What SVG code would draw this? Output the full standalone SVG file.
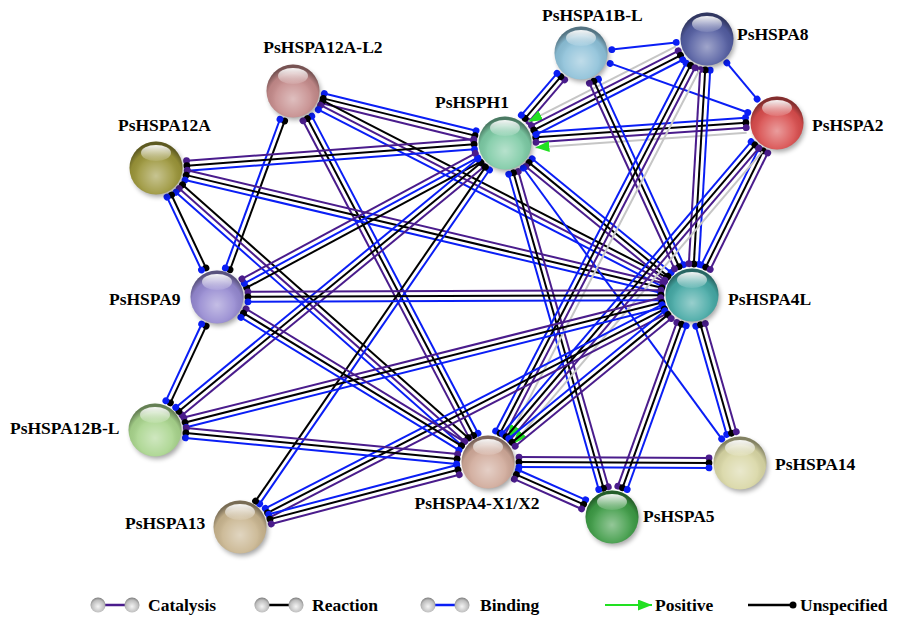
<svg xmlns="http://www.w3.org/2000/svg" width="897" height="617" viewBox="0 0 897 617">
<defs>
<style>
line{stroke-width:2;fill:none}
.p{stroke:#4a1c8c}.k{stroke:#000}.b{stroke:#0a1ef5}.g{stroke:#c6c6c6}
.dp{fill:#4a1c8c}.dk{fill:#000}.db{fill:#0a1ef5}
.lbl{font-family:"Liberation Serif","Times New Roman",serif;font-weight:bold;font-size:17.5px;fill:#000}
.sh{fill:#000;opacity:.35;filter:url(#blur)}
</style>
<filter id="blur" x="-50%" y="-50%" width="200%" height="200%"><feGaussianBlur stdDeviation="2.5"/></filter>
<radialGradient id="shade" cx="0.5" cy="0.65" r="0.6">
<stop offset="0" stop-color="#fff" stop-opacity="0.45"/>
<stop offset="0.55" stop-color="#fff" stop-opacity="0.1"/>
<stop offset="0.8" stop-color="#000" stop-opacity="0.05"/>
<stop offset="1" stop-color="#000" stop-opacity="0.4"/>
</radialGradient>
<linearGradient id="gloss" x1="0" y1="0" x2="0" y2="1">
<stop offset="0" stop-color="#fff" stop-opacity="0.95"/>
<stop offset="1" stop-color="#fff" stop-opacity="0.1"/>
</linearGradient>
<radialGradient id="lg" cx="0.5" cy="0.6" r="0.6">
<stop offset="0" stop-color="#f4f4f4"/>
<stop offset="0.7" stop-color="#bdbdbd"/>
<stop offset="1" stop-color="#7a7a7a"/>
</radialGradient>
<marker id="arr" markerUnits="userSpaceOnUse" markerWidth="14" markerHeight="11" refX="14" refY="5.5" orient="auto">
<path d="M0,0 L14,5.5 L0,11 z" fill="#22e022"/>
</marker>
</defs>
<rect width="897" height="617" fill="#fff"/>
<g id="connectors">
<g transform="translate(293,91) rotate(13.78)"><line class="b" x1="31" x2="187.3" y1="-5" y2="-5"/><line class="k" x1="31" x2="187.3" y1="0" y2="0"/><line class="p" x1="31" x2="187.3" y1="5" y2="5"/><circle class="db" cx="31" cy="-5" r="3.4"/><circle class="dk" cx="31" cy="0" r="3.4"/><circle class="dp" cx="31" cy="5" r="3.4"/><circle class="db" cx="187.3" cy="-5" r="3.4"/><circle class="dk" cx="187.3" cy="0" r="3.4"/><circle class="dp" cx="187.3" cy="5" r="3.4"/></g>
<g transform="translate(293,91) rotate(27.19)"><line class="k" x1="31" x2="417.6" y1="-5" y2="-5"/><line class="p" x1="31" x2="417.6" y1="0" y2="0"/><line class="b" x1="31" x2="417.6" y1="5" y2="5"/><circle class="dk" cx="31" cy="-5" r="3.4"/><circle class="dp" cx="31" cy="0" r="3.4"/><circle class="db" cx="31" cy="5" r="3.4"/><circle class="dk" cx="417.6" cy="-5" r="3.4"/><circle class="dp" cx="417.6" cy="0" r="3.4"/><circle class="db" cx="417.6" cy="5" r="3.4"/></g>
<g transform="translate(293,91) rotate(110.16)"><line class="k" x1="31" x2="189.5" y1="-2.5" y2="-2.5"/><line class="b" x1="31" x2="189.5" y1="2.5" y2="2.5"/><circle class="dk" cx="31" cy="-2.5" r="3.4"/><circle class="db" cx="31" cy="2.5" r="3.4"/><circle class="dk" cx="189.5" cy="-2.5" r="3.4"/><circle class="db" cx="189.5" cy="2.5" r="3.4"/></g>
<g transform="translate(293,91) rotate(62.34)"><line class="b" x1="31" x2="389" y1="-5" y2="-5"/><line class="k" x1="31" x2="389" y1="0" y2="0"/><line class="p" x1="31" x2="389" y1="5" y2="5"/><circle class="db" cx="31" cy="-5" r="3.4"/><circle class="dk" cx="31" cy="0" r="3.4"/><circle class="dp" cx="31" cy="5" r="3.4"/><circle class="db" cx="389" cy="-5" r="3.4"/><circle class="dk" cx="389" cy="0" r="3.4"/><circle class="dp" cx="389" cy="5" r="3.4"/></g>
<g transform="translate(156,168) rotate(-4.26)"><line class="p" x1="31" x2="319" y1="-5" y2="-5"/><line class="k" x1="31" x2="319" y1="0" y2="0"/><line class="b" x1="31" x2="319" y1="5" y2="5"/><circle class="dp" cx="31" cy="-5" r="3.4"/><circle class="dk" cx="31" cy="0" r="3.4"/><circle class="db" cx="31" cy="5" r="3.4"/><circle class="dp" cx="319" cy="-5" r="3.4"/><circle class="dk" cx="319" cy="0" r="3.4"/><circle class="db" cx="319" cy="5" r="3.4"/></g>
<g transform="translate(156,168) rotate(13.33)"><line class="p" x1="31" x2="519.8" y1="-5" y2="-5"/><line class="k" x1="31" x2="519.8" y1="0" y2="0"/><line class="b" x1="31" x2="519.8" y1="5" y2="5"/><circle class="dp" cx="31" cy="-5" r="3.4"/><circle class="dk" cx="31" cy="0" r="3.4"/><circle class="db" cx="31" cy="5" r="3.4"/><circle class="dp" cx="519.8" cy="-5" r="3.4"/><circle class="dk" cx="519.8" cy="0" r="3.4"/><circle class="db" cx="519.8" cy="5" r="3.4"/></g>
<g transform="translate(156,168) rotate(41.53)"><line class="k" x1="31" x2="412.5" y1="-5" y2="-5"/><line class="p" x1="31" x2="412.5" y1="0" y2="0"/><line class="b" x1="31" x2="412.5" y1="5" y2="5"/><circle class="dk" cx="31" cy="-5" r="3.4"/><circle class="dp" cx="31" cy="0" r="3.4"/><circle class="db" cx="31" cy="5" r="3.4"/><circle class="dk" cx="412.5" cy="-5" r="3.4"/><circle class="dp" cx="412.5" cy="0" r="3.4"/><circle class="db" cx="412.5" cy="5" r="3.4"/></g>
<g transform="translate(156,168) rotate(64.7)"><line class="k" x1="31" x2="111.7" y1="-2.5" y2="-2.5"/><line class="b" x1="31" x2="111.7" y1="2.5" y2="2.5"/><circle class="dk" cx="31" cy="-2.5" r="3.4"/><circle class="db" cx="31" cy="2.5" r="3.4"/><circle class="dk" cx="111.7" cy="-2.5" r="3.4"/><circle class="db" cx="111.7" cy="2.5" r="3.4"/></g>
<g transform="translate(505,143) rotate(151.71)"><line class="k" x1="31" x2="296.1" y1="-5" y2="-5"/><line class="b" x1="31" x2="296.1" y1="0" y2="0"/><line class="p" x1="31" x2="296.1" y1="5" y2="5"/><circle class="dk" cx="31" cy="-5" r="3.4"/><circle class="db" cx="31" cy="0" r="3.4"/><circle class="dp" cx="31" cy="5" r="3.4"/><circle class="dk" cx="296.1" cy="-5" r="3.4"/><circle class="db" cx="296.1" cy="0" r="3.4"/><circle class="dp" cx="296.1" cy="5" r="3.4"/></g>
<g transform="translate(505,143) rotate(140.55)"><line class="p" x1="31" x2="422.3" y1="-5" y2="-5"/><line class="k" x1="31" x2="422.3" y1="0" y2="0"/><line class="b" x1="31" x2="422.3" y1="5" y2="5"/><circle class="dp" cx="31" cy="-5" r="3.4"/><circle class="dk" cx="31" cy="0" r="3.4"/><circle class="db" cx="31" cy="5" r="3.4"/><circle class="dp" cx="422.3" cy="-5" r="3.4"/><circle class="dk" cx="422.3" cy="0" r="3.4"/><circle class="db" cx="422.3" cy="5" r="3.4"/></g>
<g transform="translate(505,143) rotate(124.54)"><line class="b" x1="31" x2="436.4" y1="-2.5" y2="-2.5"/><line class="k" x1="31" x2="436.4" y1="2.5" y2="2.5"/><circle class="db" cx="31" cy="-2.5" r="3.4"/><circle class="dk" cx="31" cy="2.5" r="3.4"/><circle class="db" cx="436.4" cy="-2.5" r="3.4"/><circle class="dk" cx="436.4" cy="2.5" r="3.4"/></g>
<g transform="translate(505,143) rotate(74.07)"><line class="p" x1="31" x2="359" y1="-5" y2="-5"/><line class="k" x1="31" x2="359" y1="0" y2="0"/><line class="b" x1="31" x2="359" y1="5" y2="5"/><circle class="dp" cx="31" cy="-5" r="3.4"/><circle class="dk" cx="31" cy="0" r="3.4"/><circle class="db" cx="31" cy="5" r="3.4"/><circle class="dp" cx="359" cy="-5" r="3.4"/><circle class="dk" cx="359" cy="0" r="3.4"/><circle class="db" cx="359" cy="5" r="3.4"/></g>
<g transform="translate(505,143) rotate(39.29)"><line class="b" x1="31" x2="210.6" y1="-5" y2="-5"/><line class="k" x1="31" x2="210.6" y1="0" y2="0"/><line class="p" x1="31" x2="210.6" y1="5" y2="5"/><circle class="db" cx="31" cy="-5" r="3.4"/><circle class="dk" cx="31" cy="0" r="3.4"/><circle class="dp" cx="31" cy="5" r="3.4"/><circle class="db" cx="210.6" cy="-5" r="3.4"/><circle class="dk" cx="210.6" cy="0" r="3.4"/><circle class="dp" cx="210.6" cy="5" r="3.4"/></g>
<g transform="translate(505,143) rotate(53.79)"><line class="b" x1="31" x2="366.8" y1="0" y2="0"/><circle class="db" cx="31" cy="0" r="3.4"/><circle class="db" cx="366.8" cy="0" r="3.4"/></g>
<g transform="translate(777,123) rotate(176)"><line class="b" x1="31" x2="241.7" y1="7.5" y2="7.5"/><line class="k" x1="31" x2="241.7" y1="2.5" y2="2.5"/><line class="p" x1="31" x2="241.7" y1="-2.5" y2="-2.5"/><line class="g" x1="31" x2="242.7" y1="-7.5" y2="-7.5" marker-end="url(#arr)"/><circle class="db" cx="31" cy="7.5" r="3.4"/><circle class="dk" cx="31" cy="2.5" r="3.4"/><circle class="dp" cx="31" cy="-2.5" r="3.4"/><circle class="db" cx="241.7" cy="7.5" r="3.4"/><circle class="dk" cx="241.7" cy="2.5" r="3.4"/><circle class="dp" cx="241.7" cy="-2.5" r="3.4"/></g>
<g transform="translate(581,53) rotate(130.5)"><line class="p" x1="31" x2="86" y1="-5" y2="-5"/><line class="k" x1="31" x2="86" y1="0" y2="0"/><line class="b" x1="31" x2="86" y1="5" y2="5"/><circle class="dp" cx="31" cy="-5" r="3.4"/><circle class="dk" cx="31" cy="0" r="3.4"/><circle class="db" cx="31" cy="5" r="3.4"/><circle class="dp" cx="86" cy="-5" r="3.4"/><circle class="dk" cx="86" cy="0" r="3.4"/><circle class="db" cx="86" cy="5" r="3.4"/></g>
<g transform="translate(707,39) rotate(152.98)"><line class="g" x1="31" x2="196.7" y1="7.5" y2="7.5" marker-end="url(#arr)"/><line class="p" x1="31" x2="195.7" y1="2.5" y2="2.5"/><line class="k" x1="31" x2="195.7" y1="-2.5" y2="-2.5"/><line class="b" x1="31" x2="195.7" y1="-7.5" y2="-7.5"/><circle class="dp" cx="31" cy="2.5" r="3.4"/><circle class="dk" cx="31" cy="-2.5" r="3.4"/><circle class="db" cx="31" cy="-7.5" r="3.4"/><circle class="dp" cx="195.7" cy="2.5" r="3.4"/><circle class="dk" cx="195.7" cy="-2.5" r="3.4"/><circle class="db" cx="195.7" cy="-7.5" r="3.4"/></g>
<g transform="translate(581,53) rotate(-6.34)"><line class="b" x1="31" x2="95.8" y1="0" y2="0"/><circle class="db" cx="31" cy="0" r="3.4"/><circle class="db" cx="95.8" cy="0" r="3.4"/></g>
<g transform="translate(581,53) rotate(19.65)"><line class="b" x1="31" x2="177.1" y1="0" y2="0"/><circle class="db" cx="31" cy="0" r="3.4"/><circle class="db" cx="177.1" cy="0" r="3.4"/></g>
<g transform="translate(581,53) rotate(65.36)"><line class="b" x1="31" x2="235.2" y1="-5" y2="-5"/><line class="k" x1="31" x2="235.2" y1="0" y2="0"/><line class="p" x1="31" x2="235.2" y1="5" y2="5"/><circle class="db" cx="31" cy="-5" r="3.4"/><circle class="dk" cx="31" cy="0" r="3.4"/><circle class="dp" cx="31" cy="5" r="3.4"/><circle class="db" cx="235.2" cy="-5" r="3.4"/><circle class="dk" cx="235.2" cy="0" r="3.4"/><circle class="dp" cx="235.2" cy="5" r="3.4"/></g>
<g transform="translate(707,39) rotate(50.19)"><line class="b" x1="31" x2="78.3" y1="0" y2="0"/><circle class="db" cx="31" cy="0" r="3.4"/><circle class="db" cx="78.3" cy="0" r="3.4"/></g>
<g transform="translate(707,39) rotate(93.35)"><line class="b" x1="31" x2="225.4" y1="-5" y2="-5"/><line class="k" x1="31" x2="225.4" y1="0" y2="0"/><line class="p" x1="31" x2="225.4" y1="5" y2="5"/><circle class="db" cx="31" cy="-5" r="3.4"/><circle class="dk" cx="31" cy="0" r="3.4"/><circle class="dp" cx="31" cy="5" r="3.4"/><circle class="db" cx="225.4" cy="-5" r="3.4"/><circle class="dk" cx="225.4" cy="0" r="3.4"/><circle class="dp" cx="225.4" cy="5" r="3.4"/></g>
<g transform="translate(707,39) rotate(117.37)"><line class="b" x1="31" x2="445.3" y1="7.5" y2="7.5"/><line class="k" x1="31" x2="445.3" y1="2.5" y2="2.5"/><line class="p" x1="31" x2="445.3" y1="-2.5" y2="-2.5"/><line class="g" x1="31" x2="446.3" y1="-7.5" y2="-7.5" marker-end="url(#arr)"/><circle class="db" cx="31" cy="7.5" r="3.4"/><circle class="dk" cx="31" cy="2.5" r="3.4"/><circle class="dp" cx="31" cy="-2.5" r="3.4"/><circle class="db" cx="445.3" cy="7.5" r="3.4"/><circle class="dk" cx="445.3" cy="2.5" r="3.4"/><circle class="dp" cx="445.3" cy="-2.5" r="3.4"/></g>
<g transform="translate(777,123) rotate(116.29)"><line class="b" x1="31" x2="160.9" y1="5" y2="5"/><line class="k" x1="31" x2="160.9" y1="0" y2="0"/><line class="p" x1="31" x2="160.9" y1="-5" y2="-5"/><circle class="db" cx="31" cy="5" r="3.4"/><circle class="dk" cx="31" cy="0" r="3.4"/><circle class="dp" cx="31" cy="-5" r="3.4"/><circle class="db" cx="160.9" cy="5" r="3.4"/><circle class="dk" cx="160.9" cy="0" r="3.4"/><circle class="dp" cx="160.9" cy="-5" r="3.4"/></g>
<g transform="translate(777,123) rotate(130.45)"><line class="b" x1="31" x2="414.5" y1="7.5" y2="7.5"/><line class="k" x1="31" x2="414.5" y1="2.5" y2="2.5"/><line class="p" x1="31" x2="414.5" y1="-2.5" y2="-2.5"/><line class="g" x1="31" x2="415.5" y1="-7.5" y2="-7.5" marker-end="url(#arr)"/><circle class="db" cx="31" cy="7.5" r="3.4"/><circle class="dk" cx="31" cy="2.5" r="3.4"/><circle class="dp" cx="31" cy="-2.5" r="3.4"/><circle class="db" cx="414.5" cy="7.5" r="3.4"/><circle class="dk" cx="414.5" cy="2.5" r="3.4"/><circle class="dp" cx="414.5" cy="-2.5" r="3.4"/></g>
<g transform="translate(217,297) rotate(-0.24)"><line class="p" x1="31" x2="444" y1="-5" y2="-5"/><line class="k" x1="31" x2="444" y1="0" y2="0"/><line class="b" x1="31" x2="444" y1="5" y2="5"/><circle class="dp" cx="31" cy="-5" r="3.4"/><circle class="dk" cx="31" cy="0" r="3.4"/><circle class="db" cx="31" cy="5" r="3.4"/><circle class="dp" cx="444" cy="-5" r="3.4"/><circle class="dk" cx="444" cy="0" r="3.4"/><circle class="db" cx="444" cy="5" r="3.4"/></g>
<g transform="translate(155,430) rotate(-14.11)"><line class="p" x1="31" x2="522.7" y1="-5" y2="-5"/><line class="k" x1="31" x2="522.7" y1="0" y2="0"/><line class="b" x1="31" x2="522.7" y1="5" y2="5"/><circle class="dp" cx="31" cy="-5" r="3.4"/><circle class="dk" cx="31" cy="0" r="3.4"/><circle class="db" cx="31" cy="5" r="3.4"/><circle class="dp" cx="522.7" cy="-5" r="3.4"/><circle class="dk" cx="522.7" cy="0" r="3.4"/><circle class="db" cx="522.7" cy="5" r="3.4"/></g>
<g transform="translate(240,527) rotate(-27.17)"><line class="b" x1="31" x2="477.1" y1="-5" y2="-5"/><line class="k" x1="31" x2="477.1" y1="0" y2="0"/><line class="p" x1="31" x2="477.1" y1="5" y2="5"/><circle class="db" cx="31" cy="-5" r="3.4"/><circle class="dk" cx="31" cy="0" r="3.4"/><circle class="dp" cx="31" cy="5" r="3.4"/><circle class="db" cx="477.1" cy="-5" r="3.4"/><circle class="dk" cx="477.1" cy="0" r="3.4"/><circle class="dp" cx="477.1" cy="5" r="3.4"/></g>
<g transform="translate(488,462) rotate(-39.31)"><line class="b" x1="31" x2="232.6" y1="-5" y2="-5"/><line class="k" x1="31" x2="232.6" y1="0" y2="0"/><line class="p" x1="31" x2="232.6" y1="5" y2="5"/><circle class="db" cx="31" cy="-5" r="3.4"/><circle class="dk" cx="31" cy="0" r="3.4"/><circle class="dp" cx="31" cy="5" r="3.4"/><circle class="db" cx="232.6" cy="-5" r="3.4"/><circle class="dk" cx="232.6" cy="0" r="3.4"/><circle class="dp" cx="232.6" cy="5" r="3.4"/></g>
<g transform="translate(612,517) rotate(-70.18)"><line class="p" x1="31" x2="205" y1="-5" y2="-5"/><line class="k" x1="31" x2="205" y1="0" y2="0"/><line class="b" x1="31" x2="205" y1="5" y2="5"/><circle class="dp" cx="31" cy="-5" r="3.4"/><circle class="dk" cx="31" cy="0" r="3.4"/><circle class="db" cx="31" cy="5" r="3.4"/><circle class="dp" cx="205" cy="-5" r="3.4"/><circle class="dk" cx="205" cy="0" r="3.4"/><circle class="db" cx="205" cy="5" r="3.4"/></g>
<g transform="translate(692,295) rotate(74.05)"><line class="b" x1="31" x2="143.7" y1="5" y2="5"/><line class="k" x1="31" x2="143.7" y1="0" y2="0"/><line class="p" x1="31" x2="143.7" y1="-5" y2="-5"/><circle class="db" cx="31" cy="5" r="3.4"/><circle class="dk" cx="31" cy="0" r="3.4"/><circle class="dp" cx="31" cy="-5" r="3.4"/><circle class="db" cx="143.7" cy="5" r="3.4"/><circle class="dk" cx="143.7" cy="0" r="3.4"/><circle class="dp" cx="143.7" cy="-5" r="3.4"/></g>
<g transform="translate(217,297) rotate(115)"><line class="k" x1="31" x2="115.7" y1="-2.5" y2="-2.5"/><line class="b" x1="31" x2="115.7" y1="2.5" y2="2.5"/><circle class="dk" cx="31" cy="-2.5" r="3.4"/><circle class="db" cx="31" cy="2.5" r="3.4"/><circle class="dk" cx="115.7" cy="-2.5" r="3.4"/><circle class="db" cx="115.7" cy="2.5" r="3.4"/></g>
<g transform="translate(217,297) rotate(31.33)"><line class="p" x1="31" x2="286.3" y1="-5" y2="-5"/><line class="k" x1="31" x2="286.3" y1="0" y2="0"/><line class="b" x1="31" x2="286.3" y1="5" y2="5"/><circle class="dp" cx="31" cy="-5" r="3.4"/><circle class="dk" cx="31" cy="0" r="3.4"/><circle class="db" cx="31" cy="5" r="3.4"/><circle class="dp" cx="286.3" cy="-5" r="3.4"/><circle class="dk" cx="286.3" cy="0" r="3.4"/><circle class="db" cx="286.3" cy="5" r="3.4"/></g>
<g transform="translate(155,430) rotate(5.49)"><line class="p" x1="31" x2="303.5" y1="-5" y2="-5"/><line class="k" x1="31" x2="303.5" y1="0" y2="0"/><line class="b" x1="31" x2="303.5" y1="5" y2="5"/><circle class="dp" cx="31" cy="-5" r="3.4"/><circle class="dk" cx="31" cy="0" r="3.4"/><circle class="db" cx="31" cy="5" r="3.4"/><circle class="dp" cx="303.5" cy="-5" r="3.4"/><circle class="dk" cx="303.5" cy="0" r="3.4"/><circle class="db" cx="303.5" cy="5" r="3.4"/></g>
<g transform="translate(240,527) rotate(-14.69)"><line class="b" x1="31" x2="225.4" y1="-5" y2="-5"/><line class="k" x1="31" x2="225.4" y1="0" y2="0"/><line class="p" x1="31" x2="225.4" y1="5" y2="5"/><circle class="db" cx="31" cy="-5" r="3.4"/><circle class="dk" cx="31" cy="0" r="3.4"/><circle class="dp" cx="31" cy="5" r="3.4"/><circle class="db" cx="225.4" cy="-5" r="3.4"/><circle class="dk" cx="225.4" cy="0" r="3.4"/><circle class="dp" cx="225.4" cy="5" r="3.4"/></g>
<g transform="translate(488,462) rotate(0.23)"><line class="p" x1="31" x2="221" y1="-5" y2="-5"/><line class="k" x1="31" x2="221" y1="0" y2="0"/><line class="b" x1="31" x2="221" y1="5" y2="5"/><circle class="dp" cx="31" cy="-5" r="3.4"/><circle class="dk" cx="31" cy="0" r="3.4"/><circle class="db" cx="31" cy="5" r="3.4"/><circle class="dp" cx="221" cy="-5" r="3.4"/><circle class="dk" cx="221" cy="0" r="3.4"/><circle class="db" cx="221" cy="5" r="3.4"/></g>
<g transform="translate(488,462) rotate(23.92)"><line class="b" x1="31" x2="104.6" y1="-5" y2="-5"/><line class="k" x1="31" x2="104.6" y1="0" y2="0"/><line class="p" x1="31" x2="104.6" y1="5" y2="5"/><circle class="db" cx="31" cy="-5" r="3.4"/><circle class="dk" cx="31" cy="0" r="3.4"/><circle class="dp" cx="31" cy="5" r="3.4"/><circle class="db" cx="104.6" cy="-5" r="3.4"/><circle class="dk" cx="104.6" cy="0" r="3.4"/><circle class="dp" cx="104.6" cy="5" r="3.4"/></g>
</g>
<g id="PsHSPA12A-L2"><circle class="sh" cx="295" cy="94" r="26"/><circle cx="293" cy="91" r="26.5" fill="#c48a8a"/><circle cx="293" cy="91" r="26.5" fill="url(#shade)"/><ellipse cx="293" cy="76" rx="15" ry="8" fill="url(#gloss)"/><text class="lbl" x="323" y="53" text-anchor="middle">PsHSPA12A-L2</text></g>
<g id="PsHSPA1B-L"><circle class="sh" cx="583" cy="56" r="26"/><circle cx="581" cy="53" r="26.5" fill="#8cc0d8"/><circle cx="581" cy="53" r="26.5" fill="url(#shade)"/><ellipse cx="581" cy="38" rx="15" ry="8" fill="url(#gloss)"/><text class="lbl" x="542" y="21">PsHSPA1B-L</text></g>
<g id="PsHSPA8"><circle class="sh" cx="709" cy="42" r="26"/><circle cx="707" cy="39" r="26.5" fill="#525ca0"/><circle cx="707" cy="39" r="26.5" fill="url(#shade)"/><ellipse cx="707" cy="24" rx="15" ry="8" fill="url(#gloss)"/><text class="lbl" x="737" y="40">PsHSPA8</text></g>
<g id="PsHSPH1"><circle class="sh" cx="507" cy="146" r="26"/><circle cx="505" cy="143" r="26.5" fill="#7ccaa4"/><circle cx="505" cy="143" r="26.5" fill="url(#shade)"/><ellipse cx="505" cy="128" rx="15" ry="8" fill="url(#gloss)"/><text class="lbl" x="435" y="108">PsHSPH1</text></g>
<g id="PsHSPA2"><circle class="sh" cx="779" cy="126" r="26"/><circle cx="777" cy="123" r="26.5" fill="#d84c4c"/><circle cx="777" cy="123" r="26.5" fill="url(#shade)"/><ellipse cx="777" cy="108" rx="15" ry="8" fill="url(#gloss)"/><text class="lbl" x="812" y="131">PsHSPA2</text></g>
<g id="PsHSPA12A"><circle class="sh" cx="158" cy="171" r="26"/><circle cx="156" cy="168" r="26.5" fill="#9a9438"/><circle cx="156" cy="168" r="26.5" fill="url(#shade)"/><ellipse cx="156" cy="153" rx="15" ry="8" fill="url(#gloss)"/><text class="lbl" x="118" y="131">PsHSPA12A</text></g>
<g id="PsHSPA9"><circle class="sh" cx="219" cy="300" r="26"/><circle cx="217" cy="297" r="26.5" fill="#9488d0"/><circle cx="217" cy="297" r="26.5" fill="url(#shade)"/><ellipse cx="217" cy="282" rx="15" ry="8" fill="url(#gloss)"/><text class="lbl" x="109" y="305">PsHSPA9</text></g>
<g id="PsHSPA4L"><circle class="sh" cx="694" cy="298" r="26"/><circle cx="692" cy="295" r="26.5" fill="#44a8a4"/><circle cx="692" cy="295" r="26.5" fill="url(#shade)"/><ellipse cx="692" cy="280" rx="15" ry="8" fill="url(#gloss)"/><text class="lbl" x="728" y="305">PsHSPA4L</text></g>
<g id="PsHSPA12B-L"><circle class="sh" cx="157" cy="433" r="26"/><circle cx="155" cy="430" r="26.5" fill="#a8d48c"/><circle cx="155" cy="430" r="26.5" fill="url(#shade)"/><ellipse cx="155" cy="415" rx="15" ry="8" fill="url(#gloss)"/><text class="lbl" x="10" y="434">PsHSPA12B-L</text></g>
<g id="PsHSPA14"><circle class="sh" cx="742" cy="466" r="26"/><circle cx="740" cy="463" r="26.5" fill="#d8d6a4"/><circle cx="740" cy="463" r="26.5" fill="url(#shade)"/><ellipse cx="740" cy="448" rx="15" ry="8" fill="url(#gloss)"/><text class="lbl" x="775" y="470">PsHSPA14</text></g>
<g id="PsHSPA4-X1-X2"><circle class="sh" cx="490" cy="465" r="26"/><circle cx="488" cy="462" r="26.5" fill="#cfa898"/><circle cx="488" cy="462" r="26.5" fill="url(#shade)"/><ellipse cx="488" cy="447" rx="15" ry="8" fill="url(#gloss)"/><text class="lbl" x="477" y="509" text-anchor="middle">PsHSPA4-X1/X2</text></g>
<g id="PsHSPA13"><circle class="sh" cx="242" cy="530" r="26"/><circle cx="240" cy="527" r="26.5" fill="#c8b48e"/><circle cx="240" cy="527" r="26.5" fill="url(#shade)"/><ellipse cx="240" cy="512" rx="15" ry="8" fill="url(#gloss)"/><text class="lbl" x="125" y="529">PsHSPA13</text></g>
<g id="PsHSPA5"><circle class="sh" cx="614" cy="520" r="26"/><circle cx="612" cy="517" r="26.5" fill="#3c9a44"/><circle cx="612" cy="517" r="26.5" fill="url(#shade)"/><ellipse cx="612" cy="502" rx="15" ry="8" fill="url(#gloss)"/><text class="lbl" x="643" y="522">PsHSPA5</text></g>
<g id="legend">
<line class="p" x1="100" y1="605" x2="130" y2="605" style="stroke-width:2.5"/>
<circle cx="98" cy="605" r="7.5" fill="url(#lg)"/><circle cx="132" cy="605" r="7.5" fill="url(#lg)"/>
<text class="lbl" x="148" y="611">Catalysis</text>
<line class="k" x1="264" y1="605" x2="294" y2="605" style="stroke-width:2.5"/>
<circle cx="262" cy="605" r="7.5" fill="url(#lg)"/><circle cx="296" cy="605" r="7.5" fill="url(#lg)"/>
<text class="lbl" x="312" y="611">Reaction</text>
<line class="b" x1="430" y1="605" x2="460" y2="605" style="stroke-width:2.5"/>
<circle cx="428" cy="605" r="7.5" fill="url(#lg)"/><circle cx="462" cy="605" r="7.5" fill="url(#lg)"/>
<text class="lbl" x="480" y="611">Binding</text>
<line x1="605" y1="605" x2="652" y2="605" style="stroke:#22e022;stroke-width:2" marker-end="url(#arr)"/>
<text class="lbl" x="655" y="611">Positive</text>
<line class="k" x1="748" y1="605" x2="792" y2="605" style="stroke-width:2.5"/>
<circle cx="793" cy="605" r="3.5" fill="#000"/>
<text class="lbl" x="800" y="611">Unspecified</text>
</g>
</svg>
